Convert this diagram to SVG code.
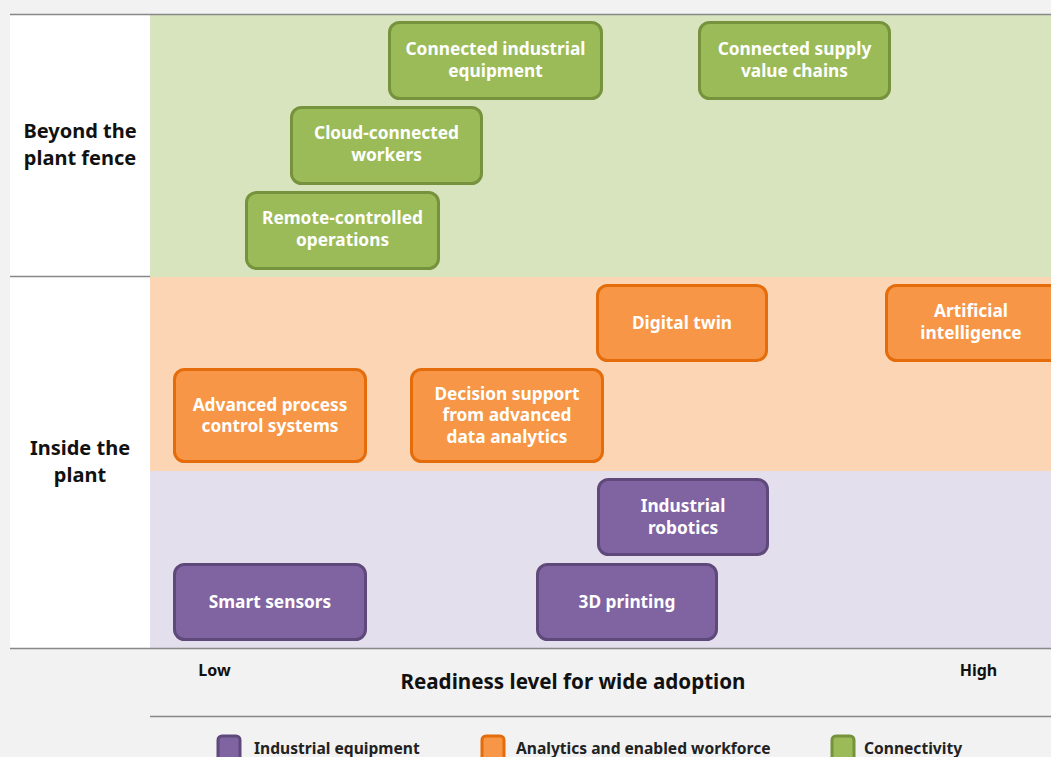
<svg xmlns="http://www.w3.org/2000/svg" width="1051" height="757" viewBox="0 0 1051 757">
<style>
text{font-family:"Noto Sans","Liberation Sans",sans-serif;font-weight:bold}
.bt{fill:#fff;font-size:17.3px;text-anchor:middle}
.g{fill:#9bbb59;stroke:#76923c;stroke-width:3}
.o{fill:#f79646;stroke:#e46c0a;stroke-width:3}
.p{fill:#8064a2;stroke:#5f497a;stroke-width:3}
.ax{fill:#111;font-size:20px;text-anchor:middle}
.lg{fill:#222;font-size:15.6px}
.ln{stroke:#888;stroke-width:1.5}
</style>
<rect width="1051" height="757" fill="#f2f2f2"/>
<rect x="10" y="15" width="140" height="633" fill="#fff"/>
<rect x="150" y="15" width="901" height="262" fill="#d7e4bd"/>
<rect x="150" y="277" width="901" height="194" fill="#fcd5b5"/>
<rect x="150" y="471" width="901" height="177" fill="#e4dfec"/>
<g id="axes">
<line class="ln" x1="10" y1="14.5" x2="1051" y2="14.5"/>
<line class="ln" x1="10" y1="276.5" x2="150" y2="276.5"/>
<line class="ln" x1="10" y1="648.5" x2="1051" y2="648.5"/>
<line class="ln" x1="150" y1="716.5" x2="1051" y2="716.5"/>
<text class="ax" x="80" y="138">Beyond the</text>
<text class="ax" x="80" y="165">plant fence</text>
<text class="ax" x="80" y="455">Inside the</text>
<text class="ax" x="80" y="482">plant</text>
<text x="214.5" y="676" fill="#111" font-size="16" text-anchor="middle">Low</text>
<text x="978.5" y="676" fill="#111" font-size="16" text-anchor="middle">High</text>
<text x="573" y="689" fill="#111" font-size="20.6" text-anchor="middle">Readiness level for wide adoption</text>
</g>
<g id="connectors"></g>
<g id="n1"><rect class="g" x="389.5" y="22.5" width="212" height="76" rx="10"/><text class="bt" x="495.5" y="55">Connected industrial</text><text class="bt" x="495.5" y="77">equipment</text></g>
<g id="n2"><rect class="g" x="699.5" y="22.5" width="190" height="76" rx="10"/><text class="bt" x="794.5" y="55">Connected supply</text><text class="bt" x="794.5" y="77">value chains</text></g>
<g id="n3"><rect class="g" x="291.5" y="107.5" width="190" height="76" rx="10"/><text class="bt" x="386.5" y="139">Cloud-connected</text><text class="bt" x="386.5" y="161">workers</text></g>
<g id="n4"><rect class="g" x="246.5" y="192.5" width="192" height="76" rx="10"/><text class="bt" x="342.5" y="224">Remote-controlled</text><text class="bt" x="342.5" y="246">operations</text></g>
<g id="n5"><rect class="o" x="597.5" y="285.5" width="169" height="75" rx="10"/><text class="bt" x="682" y="329">Digital twin</text></g>
<g id="n6"><rect class="o" x="886.5" y="285.5" width="175" height="75" rx="10"/><text class="bt" x="971" y="317">Artificial</text><text class="bt" x="971" y="339">intelligence</text></g>
<g id="n7"><rect class="o" x="174.5" y="369.5" width="191" height="92" rx="10"/><text class="bt" x="270" y="411">Advanced process</text><text class="bt" x="270" y="432">control systems</text></g>
<g id="n8"><rect class="o" x="411.5" y="369.5" width="191" height="92" rx="10"/><text class="bt" x="507" y="400">Decision support</text><text class="bt" x="507" y="421">from advanced</text><text class="bt" x="507" y="443">data analytics</text></g>
<g id="n9"><rect class="p" x="598.5" y="479.5" width="169" height="75" rx="10"/><text class="bt" x="683" y="512">Industrial</text><text class="bt" x="683" y="534">robotics</text></g>
<g id="n10"><rect class="p" x="174.5" y="564.5" width="191" height="75" rx="10"/><text class="bt" x="270" y="608">Smart sensors</text></g>
<g id="n11"><rect class="p" x="537.5" y="564.5" width="179" height="75" rx="10"/><text class="bt" x="627" y="608">3D printing</text></g>
<g id="legend">
<rect class="p" x="218" y="736" width="22" height="26" rx="4" stroke-width="2"/>
<text class="lg" x="254" y="754">Industrial equipment</text>
<rect class="o" x="482" y="736" width="22" height="26" rx="4" stroke-width="2"/>
<text class="lg" x="516" y="754">Analytics and enabled workforce</text>
<rect class="g" x="832" y="736" width="22" height="26" rx="4" stroke-width="2"/>
<text class="lg" x="864" y="754">Connectivity</text>
</g>
</svg>
